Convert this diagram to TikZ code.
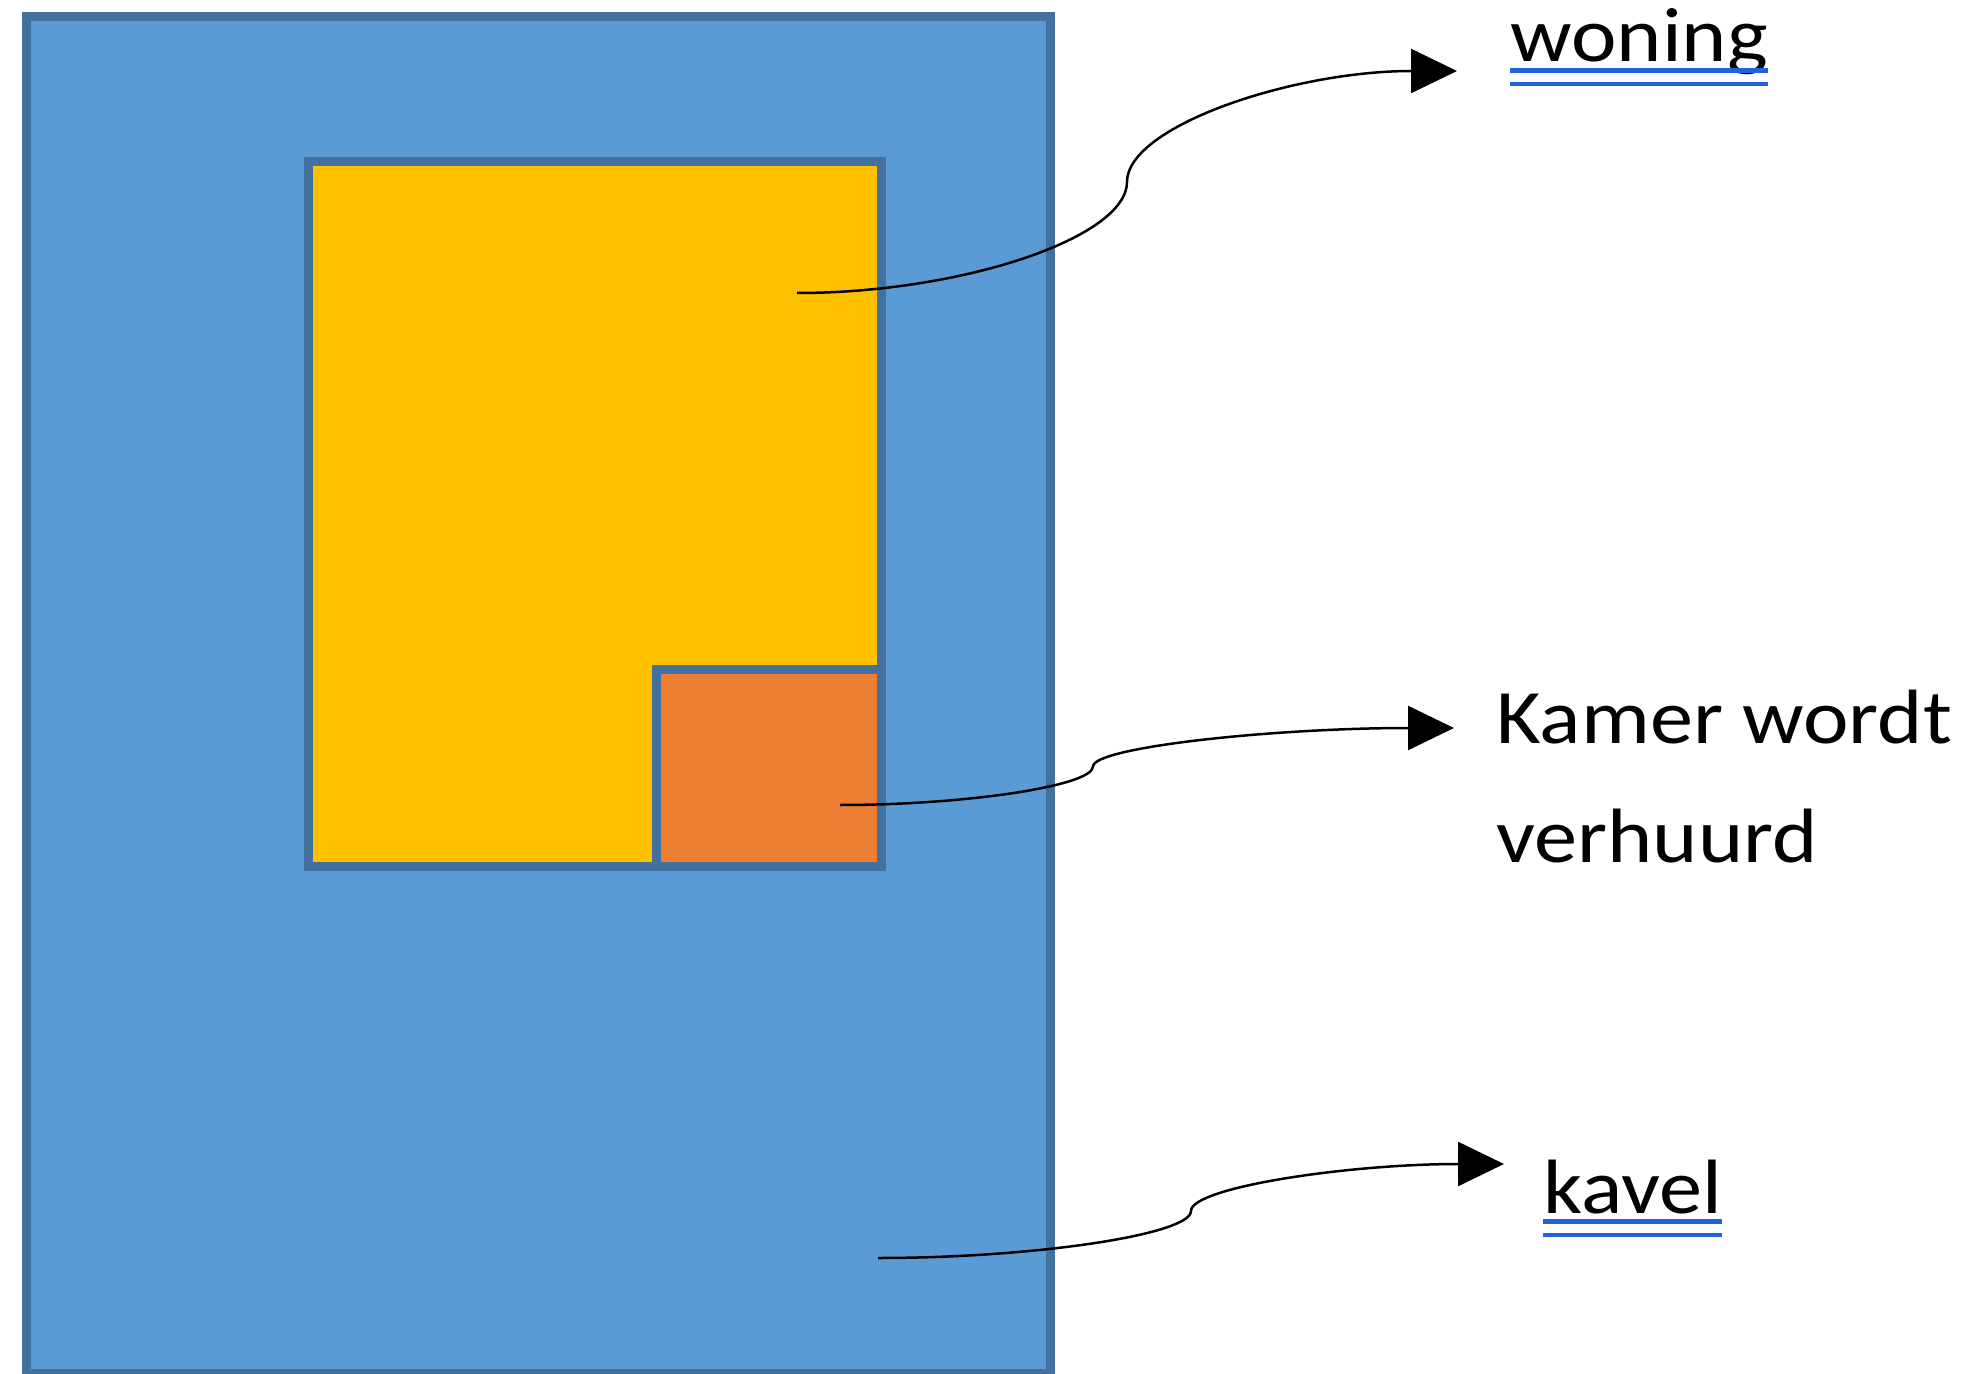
\documentclass[tikz,border=0pt]{standalone}
\usepackage{fontspec}
\setmainfont{Carlito}[FakeStretch=1.12]
\usepackage{tikz}
\usetikzlibrary{arrows.meta}
\definecolor{kavelblauw}{RGB}{91,155,213}
\definecolor{woninggeel}{RGB}{255,192,0}
\definecolor{kameroranje}{RGB}{237,125,49}
\definecolor{rand}{RGB}{65,113,156}
\definecolor{spelblauw}{RGB}{34,98,221}

\begin{document}
\begin{tikzpicture}[
    x=0.5pt, y=-0.5pt,
    vlak/.style={draw=rand, line width=4.5pt},
    pijl/.style={draw, line width=1.25pt, -{Triangle[length=23pt, width=22pt]}},
    tekst/.style={inner sep=0pt, anchor=base west, align=left,
    font=\fontsize{38.5}{59.5}\selectfont},
    streep/.style={draw=spelblauw, line width=2.25pt}
    ]
\useasboundingbox (0,0) rectangle (1971,1374);
%Plot, house and room
\draw[vlak, fill=kavelblauw] (26.5,16.5) rectangle (1050.5,1373.5);
\draw[vlak, fill=woninggeel] (308.5,162) rectangle (881.5,866.5);
\draw[vlak, fill=kameroranje] (656,669.5) rectangle (881.5,866.5);
%Labels (base of a two-line node is its last line)
\node[tekst] (woning) at (1510,62) {woning};
\node[tekst] (kamer) at (1496,862) {Kamer wordt\\verhuurd};
\node[tekst] (kavel) at (1543,1213) {kavel};
\draw[streep] ([yshift=-4.25pt]woning.base west) -- ([yshift=-4.25pt]woning.base east);
\draw[streep] ([yshift=-11pt]woning.base west) -- ([yshift=-11pt]woning.base east);
\draw[streep] ([yshift=-4.25pt]kavel.base west) -- ([yshift=-4.25pt]kavel.base east);
\draw[streep] ([yshift=-11pt]kavel.base west) -- ([yshift=-11pt]kavel.base east);
%Arrows
\coordinate (woning-in) at (797,293);
\coordinate (woning-uit) at (1457,71);
\coordinate (kamer-in) at (840,805);
\coordinate (kamer-uit) at (1454,728);
\coordinate (kavel-in) at (878,1258);
\coordinate (kavel-uit) at (1504,1164);
\draw[pijl] (woning-in) .. controls (962,293) and (1127,237.5) .. (1127,182)
    .. controls (1127,126.5) and (1292,71) .. (woning-uit);
\draw[pijl] (kamer-in) .. controls (966.5,805) and (1093,785.75) .. (1093,766.5)
    .. controls (1093,747.25) and (1273.5,728) .. (kamer-uit);
\draw[pijl] (kavel-in) .. controls (1034.5,1258) and (1191,1234.5) .. (1191,1211)
    .. controls (1191,1187.5) and (1347.5,1164) .. (kavel-uit);
\end{tikzpicture}
\end{document}
